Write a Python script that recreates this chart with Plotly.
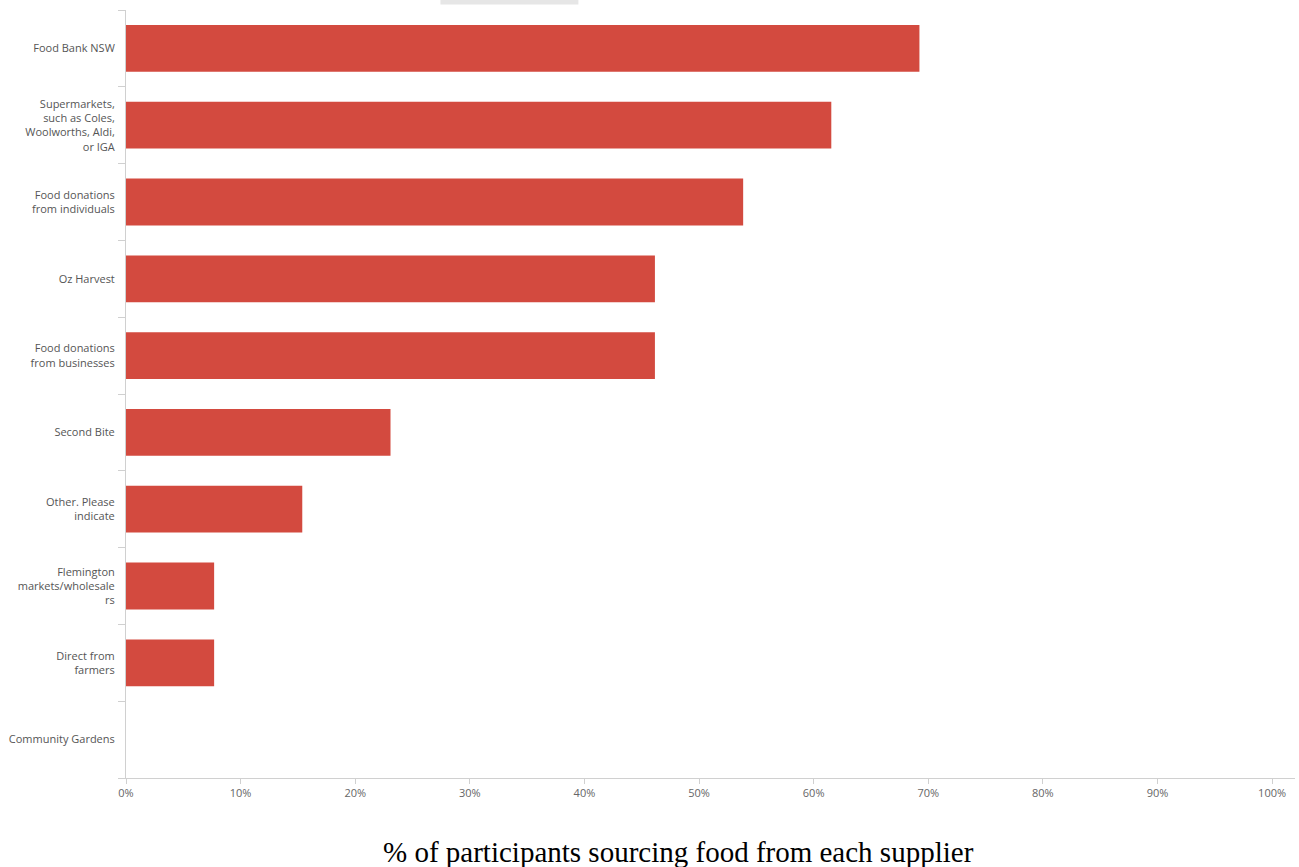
import plotly.graph_objects as go

categories = [
    "Food Bank NSW",
    "Supermarkets,<br>such as Coles,<br>Woolworths, Aldi,<br>or IGA",
    "Food donations<br>from individuals",
    "Oz Harvest",
    "Food donations<br>from businesses",
    "Second Bite",
    "Other. Please<br>indicate",
    "Flemington<br>markets/wholesale<br>rs",
    "Direct from<br>farmers",
    "Community Gardens",
]
values = [69.23, 61.54, 53.85, 46.15, 46.15, 23.08, 15.38, 7.69, 7.69, 0]
x_tick_vals = [0, 10, 20, 30, 40, 50, 60, 70, 80, 90, 100]
x_tick_text = [f"{v}%" for v in x_tick_vals]
title_text = "% of participants sourcing food from each supplier"

fig = go.Figure(
    go.Bar(
        x=values,
        y=categories,
        orientation="h",
        marker=dict(color="#D34A3F", line=dict(width=0)),
        hoverinfo="x+y",
    )
)

fig.update_layout(
    width=1299,
    height=867,
    margin=dict(l=126, r=4, t=10, b=89),
    paper_bgcolor="white",
    plot_bgcolor="white",
    bargap=0.39,
    showlegend=False,
    font=dict(family="Open Sans, Arial, sans-serif", size=11, color="#555555"),
    xaxis=dict(
        range=[0, 102],
        tickvals=x_tick_vals,
        ticktext=x_tick_text,
        showgrid=False,
        zeroline=False,
        showline=True,
        linecolor="#d0d0d0",
        linewidth=1,
        ticks="outside",
        ticklen=5,
        tickcolor="#d0d0d0",
        tickfont=dict(size=11, color="#666666"),
        fixedrange=True,
    ),
    yaxis=dict(
        categoryorder="array",
        categoryarray=categories[::-1],
        autorange=True,
        showgrid=False,
        zeroline=False,
        showline=True,
        linecolor="#d0d0d0",
        linewidth=1,
        ticks="outside",
        ticklen=7,
        tickcolor="#d0d0d0",
        tickson="boundaries",
        ticklabelstandoff=8,
        tickfont=dict(size=11, color="#555555"),
        fixedrange=True,
    ),
    annotations=[
        dict(
            text=title_text,
            xref="paper",
            yref="paper",
            x=0.473,
            y=-0.097,
            xanchor="center",
            yanchor="middle",
            showarrow=False,
            font=dict(family="Liberation Serif, Times New Roman, serif", size=29, color="#000000"),
        )
    ],
    shapes=[
        dict(
            type="rect",
            xref="paper",
            yref="paper",
            x0=0.269,
            x1=0.387,
            y0=1.007,
            y1=1.016,
            line=dict(width=0),
            fillcolor="#e6e6e6",
            layer="above",
        )
    ],
)

fig.write_html("out.html")
